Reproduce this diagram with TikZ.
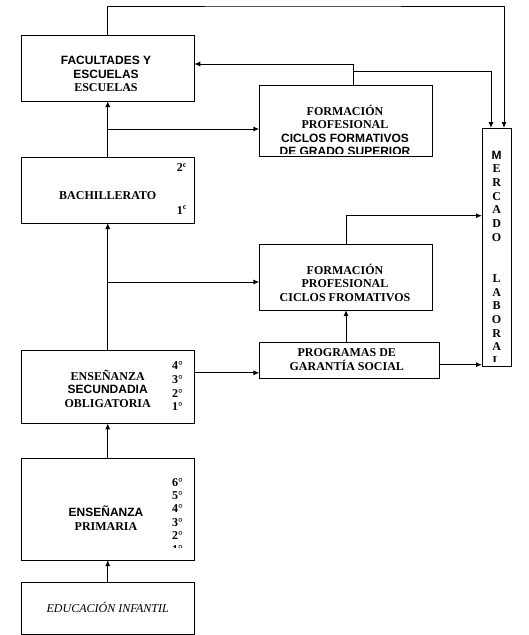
\documentclass[tikz,border=0pt]{standalone}
\usepackage{fontspec}
\setmainfont{Liberation Serif}
\setsansfont{Liberation Sans}
\usetikzlibrary{arrows.meta}
\tikzset{
    caja/.style={draw=black, line width=1pt, minimum width=173pt, inner sep=0pt, outer sep=0pt},
    texto/.style={align=center, inner sep=0pt, font=\fontsize{12}{13.5}\selectfont\bfseries},
    flecha/.style={line width=1pt, -{Latex[length=6pt,width=5pt]}}}

\begin{document}
\begin{tikzpicture}[x=1pt, y=-1pt]

            \useasboundingbox (0,0) rectangle (528,635);

            % cajas
            \node[caja, minimum height=65.6pt] (FAC) at (107.75,68.2) {};
            \node[caja, minimum height=70.8pt, minimum width=173.4pt] (FPS) at (346,121.3) {};
            \node[caja, minimum height=65.6pt] (BAC) at (107.75,190.2) {};
            \node[caja, minimum height=65.7pt, minimum width=173.4pt] (FPC) at (346,277.2) {};
            \node[caja, minimum height=36.3pt, minimum width=180pt] (PRG) at (349.4,360.7) {};
            \node[caja, minimum height=73pt] (SEC) at (107.75,386.8) {};
            \node[caja, minimum height=101.6pt] (PRI) at (107.75,509.2) {};
            \node[caja, minimum height=52pt] (INF) at (107.75,608.2) {};
            \node[caja, minimum height=238pt, minimum width=29pt] (MER) at (496.5,247) {};

            % textos
            \node[texto] (FACt) at (106,74) {{\sffamily FACULTADES Y}\\{\sffamily ESCUELAS}\\ESCUELAS};
            \begin{scope}
                \clip (259.3,85.9) rectangle (432.7,153.3);
                \node[texto] (FPSt) at (345,130.6) {FORMACIÓN\\PROFESIONAL\\{\sffamily CICLOS FORMATIVOS}\\{\sffamily DE GRADO SUPERIOR}};
            \end{scope}
            \node[texto, anchor=base] (BACt) at (107.7,199.5) {BACHILLERATO};
            \node[texto, anchor=base] (BAC2) at (181.8,171.7) {2\textsuperscript{c}};
            \node[texto, anchor=base] (BAC1) at (181.8,214) {1\textsuperscript{c}};
            \node[texto] (FPCt) at (345,282.5) {FORMACIÓN\\PROFESIONAL\\CICLOS FROMATIVOS};
            \node[texto] (PRGt) at (346.8,359.7) {PROGRAMAS DE\\GARANTÍA SOCIAL};
            \node[texto] (SECt) at (107.7,388.7) {ENSEÑANZA\\{\sffamily SECUNDADIA}\\OBLIGATORIA};
            \foreach \n [count=\i from 0] in {4,3,2,1}
                \node[texto, anchor=base] (S\n) at (177.4,369.4+13.8*\i) {\n°};
            \node[texto] (PRIt) at (106,518.2) {{\sffamily ENSEÑANZA}\\PRIMARIA};
            \begin{scope}
                \clip (21.2,458.4) rectangle (194.3,547.6);
                \foreach \n [count=\i from 0] in {6,5,4,3,2,1}
                    \node[texto, anchor=base] (P\n) at (177.4,486+13.46*\i) {\n°};
            \end{scope}
            \node[texto, anchor=base, font=\fontsize{12}{13.5}\selectfont\itshape] (INFt) at (107.7,612) {EDUCACIÓN INFANTIL};

            % mercado laboral
            \node[texto, anchor=base, font=\fontsize{12}{13.5}\selectfont\bfseries\sffamily] (M0) at (496.6,159.3) {M};
            \foreach \l [count=\i] in {E,R,C,A,D,O}
                \node[texto, anchor=base] (M\i) at (496.6,159+13.7*\i) {\l};
            \foreach \l [count=\i from 9] in {L,A,B,O,R,A}
                \node[texto, anchor=base] (L\i) at (496.6,159+13.7*\i) {\l};
            \begin{scope}
                \clip (482,128) rectangle (511,361);
                \node[texto, anchor=base] (L15) at (496.6,159+13.7*15) {L};
            \end{scope}

            % flechas
            \coordinate (ARR) at (300,6);
            \draw[flecha] (FAC.north) |- (ARR) -| ([xshift=7.5pt]MER.north);
            \draw[flecha] ([xshift=7.5pt]FPS.north) |- ([yshift=4.2pt]FAC.east);
            \coordinate (FPSr) at (353.5,71.4);
            \draw[flecha] (FPSr) -| ([xshift=-5.5pt]MER.north);

            \draw[flecha] (BAC.north) -- (FAC.south);
            \coordinate (BACr) at (107.75,129);
            \draw[flecha] (BACr) -- (BACr -| FPS.west);

            \draw[flecha] (SEC.north) -- (BAC.south);
            \coordinate (SECr) at (107.75,282);
            \draw[flecha] (SECr) -- (SECr -| FPC.west);

            \draw[flecha] (FPC.north) |- ([yshift=31.3pt]MER.west);
            \draw[flecha] (PRG.north -| FPC.south) -- (FPC.south);
            \draw[flecha] ([yshift=14pt]SEC.east) -- ([yshift=14pt]SEC.east -| PRG.west);
            \draw[flecha] ([yshift=-4pt]PRG.east) -- ([yshift=-4pt]PRG.east -| MER.west);

            \draw[flecha] (PRI.north) -- (SEC.south);
            \draw[flecha] (INF.north) -- (PRI.south);

        \end{tikzpicture}
\end{document}
